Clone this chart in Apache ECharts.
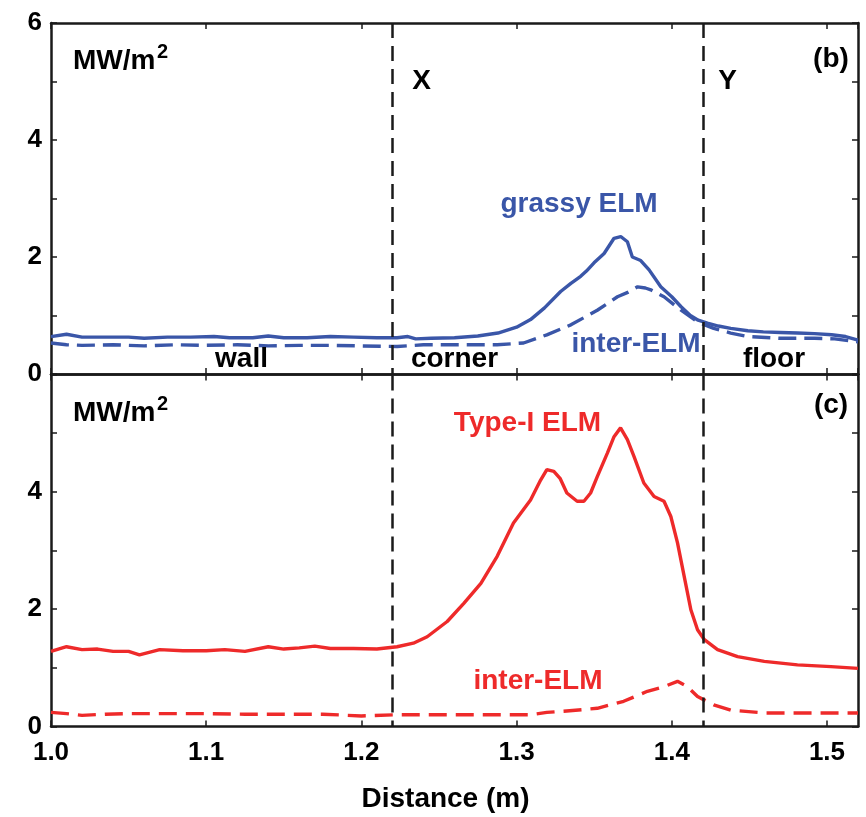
<!DOCTYPE html>
<html>
<head>
<meta charset="utf-8">
<script src="https://cdn.jsdelivr.net/npm/echarts@6/dist/echarts.min.js"></script>
<style>
html,body{margin:0;padding:0;background:#fff;}
#chart{width:866px;height:817px;}
</style>
</head>
<body>
<div id="chart"></div>
<script>
// ---- data (distance in m, heat flux in MW/m^2) ----
const grassyX = [1.000,1.010,1.020,1.035,1.050,1.060,1.075,1.090,1.105,1.115,1.130,1.140,1.150,1.165,1.180,1.195,1.210,1.223,1.230,1.235,1.245,1.260,1.275,1.288,1.300,1.309,1.318,1.3284,1.335,1.3413,1.345,1.3499,1.3564,1.3628,1.3671,1.3714,1.3746,1.3800,1.3854,1.3929,1.400,1.406,1.412,1.417,1.423,1.430,1.438,1.449,1.459,1.470,1.481,1.492,1.503,1.512,1.520];
const grassyY = [0.64,0.68,0.63,0.63,0.63,0.61,0.63,0.63,0.64,0.62,0.62,0.65,0.62,0.62,0.64,0.63,0.62,0.62,0.64,0.60,0.61,0.62,0.65,0.70,0.80,0.93,1.13,1.41,1.55,1.67,1.76,1.90,2.06,2.32,2.35,2.26,2.00,1.94,1.78,1.49,1.32,1.15,1.00,0.92,0.87,0.82,0.78,0.74,0.72,0.71,0.70,0.69,0.67,0.64,0.58];

const interBX = [1.000,1.010,1.020,1.040,1.060,1.080,1.100,1.120,1.140,1.160,1.180,1.200,1.223,1.240,1.266,1.2875,1.3045,1.3195,1.335,1.352,1.365,1.372,1.378,1.383,1.3865,1.395,1.406,1.4166,1.427,1.438,1.449,1.470,1.492,1.505,1.520];
const interBY = [0.53,0.50,0.49,0.50,0.48,0.50,0.49,0.50,0.48,0.49,0.49,0.48,0.47,0.50,0.50,0.50,0.53,0.67,0.84,1.09,1.32,1.40,1.49,1.47,1.44,1.32,1.09,0.89,0.78,0.70,0.64,0.61,0.61,0.60,0.55];

const typeIX = [1.000,1.010,1.020,1.030,1.040,1.050,1.057,1.070,1.085,1.100,1.112,1.125,1.140,1.150,1.160,1.170,1.180,1.195,1.210,1.223,1.2335,1.2424,1.2553,1.266,1.277,1.2875,1.298,1.309,1.3155,1.3195,1.324,1.328,1.3324,1.339,1.3434,1.3477,1.352,1.3585,1.3628,1.367,1.3714,1.3757,1.382,1.3886,1.395,1.3994,1.4037,1.408,1.4123,1.4166,1.421,1.4295,1.4424,1.4596,1.481,1.5026,1.520];
const typeIY = [1.28,1.36,1.31,1.32,1.28,1.28,1.22,1.31,1.29,1.29,1.31,1.28,1.36,1.32,1.34,1.37,1.33,1.33,1.32,1.36,1.42,1.53,1.79,2.10,2.44,2.90,3.47,3.86,4.20,4.38,4.35,4.23,3.98,3.84,3.84,3.98,4.26,4.66,4.94,5.09,4.89,4.60,4.15,3.92,3.84,3.58,3.13,2.56,1.99,1.65,1.48,1.31,1.19,1.11,1.05,1.02,0.99];

const interCX = [1.000,1.010,1.020,1.035,1.050,1.075,1.100,1.125,1.150,1.175,1.200,1.223,1.2445,1.266,1.2875,1.309,1.3195,1.3303,1.352,1.369,1.3843,1.395,1.4037,1.410,1.4166,1.427,1.438,1.4596,1.481,1.520];
const interCY = [0.24,0.22,0.19,0.21,0.22,0.22,0.22,0.21,0.21,0.21,0.18,0.20,0.20,0.20,0.20,0.20,0.24,0.26,0.31,0.43,0.60,0.68,0.77,0.68,0.51,0.37,0.28,0.23,0.23,0.23];

const boundaries = [1.223, 1.42];           // X and Y
const xTicks = [1.0, 1.1, 1.2, 1.3, 1.4, 1.5];

const BLUE = '#3a56a8';
const RED = '#ee2a2a';
const INK = '#1a1a1a';
const FONT = '"Liberation Sans", Arial, Helvetica, sans-serif';

function pairs(xs, ys){ return xs.map((x,i)=>[x, ys[i]]); }

const chart = echarts.init(document.getElementById('chart'), null, {renderer:'canvas'});

const axisLineStyle = {lineStyle:{color:INK, width:2.5}};
function xAx(gridIndex, position, labels){
  return {
    type:'value', gridIndex, position, min:1.0, max:1.52, interval:0.1,
    axisLine:{show:true, onZero:false, ...axisLineStyle},
    axisTick:{show:true, inside:true, length:6, lineStyle:{color:INK, width:1.5}},
    splitLine:{show:false},
    axisLabel: labels ? {
      show:true, showMaxLabel:false, margin:13, color:'#000',
      fontFamily:FONT, fontWeight:'bold', fontSize:26,
      formatter:(v)=> xTicks.some(t=>Math.abs(t-v)<1e-6) ? v.toFixed(1) : ''
    } : {show:false},
    name: labels ? 'Distance (m)' : '',
    nameLocation:'middle', nameGap:59,
    nameTextStyle:{fontFamily:FONT, fontWeight:'bold', fontSize:28, color:'#000', padding:[0,18,0,0]}
  };
}
function yAx(gridIndex, position, labels, hideTop){
  return {
    type:'value', gridIndex, position, min:0, max:6, interval:1,
    axisLine:{show:true, onZero:false, ...axisLineStyle},
    axisTick:{show:true, inside:true, length:6, lineStyle:{color:INK, width:1.5}},
    splitLine:{show:false},
    axisLabel: labels ? {
      show:true, margin:9, color:'#000',
      fontFamily:FONT, fontWeight:'bold', fontSize:26,
      formatter:(v)=>{ const r=Math.round(v); if (r%2!==0) return ''; if (hideTop && r===6) return ''; return String(r); }
    } : {show:false}
  };
}

function vlines(){
  return {
    silent:true, symbol:['none','none'], label:{show:false},
    lineStyle:{color:INK, width:2.5, type:[15,8], dashOffset:-14},
    emphasis:{disabled:true},
    data: boundaries.map(b=>({xAxis:b}))
  };
}

function txt(text, x, y, color, size){
  return {
    type:'text', x, y, silent:true, z:100,
    style:{text, fill:color, font:'bold '+size+'px '+FONT,
      align:'center', verticalAlign:'middle', textAlign:'center', textVerticalAlign:'middle'}
  };
}
function txtL(text, x, y, color, size){
  return {
    type:'text', x, y, silent:true, z:100,
    style:{text, fill:color, font:'bold '+size+'px '+FONT,
      align:'left', verticalAlign:'middle', textAlign:'left', textVerticalAlign:'middle'}
  };
}

const option = {
  backgroundColor:'#fff',
  animation:false,
  grid:[
    {left:51, top:23, width:807, height:351},
    {left:51, top:374.5, width:807, height:352}
  ],
  xAxis:[ xAx(0,'bottom',false), xAx(0,'top',false), xAx(1,'bottom',true), xAx(1,'top',false) ],
  yAxis:[ yAx(0,'left',true,false), yAx(0,'right',false,false), yAx(1,'left',true,true), yAx(1,'right',false,false) ],
  series:[
    {type:'line', name:'grassy ELM', xAxisIndex:0, yAxisIndex:0, data:pairs(grassyX,grassyY),
      showSymbol:false, symbol:'none', lineStyle:{color:BLUE, width:3.4}, z:3, markLine:vlines()},
    {type:'line', name:'inter-ELM (b)', xAxisIndex:0, yAxisIndex:0, data:pairs(interBX,interBY),
      showSymbol:false, symbol:'none', lineStyle:{color:BLUE, width:3.4, type:[18,8]}, z:3},
    {type:'line', name:'Type-I ELM', xAxisIndex:2, yAxisIndex:2, data:pairs(typeIX,typeIY),
      showSymbol:false, symbol:'none', lineStyle:{color:RED, width:3.4}, z:3, markLine:vlines()},
    {type:'line', name:'inter-ELM (c)', xAxisIndex:2, yAxisIndex:2, data:pairs(interCX,interCY),
      showSymbol:false, symbol:'none', lineStyle:{color:RED, width:3.4, type:[18,9]}, z:3}
  ],
  graphic:[
    txtL('MW/m', 73, 61, '#000', 28),
    txtL('2', 157, 52, '#000', 20),
    txt('X', 421.5, 81, '#000', 28),
    txt('Y', 727.5, 81, '#000', 28),
    txt('(b)', 831, 59, '#000', 28),
    txt('grassy ELM', 579, 204, BLUE, 28),
    txt('inter-ELM', 636, 344, BLUE, 28),
    txt('wall', 241.5, 359, '#000', 28),
    txt('corner', 454.5, 359, '#000', 28),
    txt('floor', 774, 359, '#000', 28),
    txtL('MW/m', 73, 413, '#000', 28),
    txtL('2', 157, 404, '#000', 20),
    txt('(c)', 831, 405, '#000', 28),
    txt('Type-I ELM', 527.5, 423, RED, 28),
    txt('inter-ELM', 538, 681, RED, 28)
  ]
};
chart.setOption(option);
</script>
</body>
</html>
